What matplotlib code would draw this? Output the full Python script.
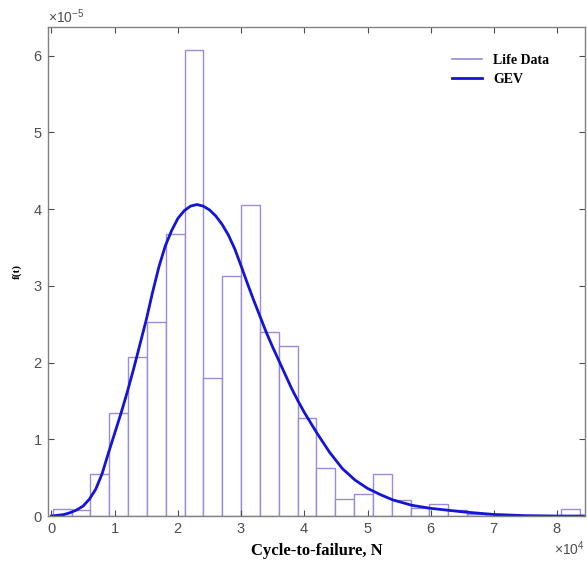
import numpy as np
import matplotlib
matplotlib.use("Agg")
import matplotlib.pyplot as plt
from matplotlib.lines import Line2D
from matplotlib.ticker import ScalarFormatter

plt.rcParams["font.family"] = ["Liberation Sans", "DejaVu Sans"]
plt.rcParams["mathtext.fontset"] = "custom"
plt.rcParams["mathtext.rm"] = "Liberation Sans"

# histogram of life data (cycles, density)
bin_start = 200
bin_width = 2979
life_density = [0.09, 0.08, 0.55, 1.34, 2.07, 2.53, 3.67, 6.07, 1.80, 3.13,
                4.05, 2.40, 2.21, 1.28, 0.62, 0.22, 0.29, 0.55, 0.21, 0.11,
                0.16, 0.08, 0.02, 0.02, 0.0, 0.0, 0.0, 0.09]  # x 1e-5

# fitted GEV pdf
gev_x = [0, 1000, 2000, 3000, 4000, 5000, 6000, 7000, 8000, 9000, 10000,
         11000, 12000, 13000, 14000, 15000, 16000, 17000, 18000, 19000,
         20000, 21000, 22000, 23000, 24000, 25000, 26000, 27000, 28000,
         29000, 30000, 31000, 32000, 33000, 34000, 35000, 36000, 37000,
         38000, 39000, 40000, 42000, 44000, 46000, 48000, 50000, 52000,
         54000, 57000, 60000, 65000, 70000, 75000, 80000, 84400]
gev_y = [0.0, 0.01, 0.02, 0.045, 0.08, 0.13, 0.22, 0.35, 0.55, 0.82, 1.08,
         1.34, 1.62, 1.92, 2.24, 2.56, 2.92, 3.25, 3.52, 3.72, 3.88, 3.98,
         4.04, 4.06, 4.04, 3.99, 3.91, 3.80, 3.66, 3.48, 3.26, 3.03, 2.81,
         2.60, 2.39, 2.20, 2.02, 1.84, 1.66, 1.50, 1.35, 1.08, 0.83, 0.62,
         0.47, 0.36, 0.28, 0.21, 0.14, 0.10, 0.055, 0.02, 0.005, 0.0,
         0.0]  # x 1e-5

purple = "#9a8ad8"
blue = "#1414d8"
grey = "#808080"

lefts = bin_start + bin_width * np.arange(len(life_density))
heights = np.array(life_density) * 1e-5

fig = plt.figure(figsize=(5.87, 5.67), dpi=100)
ax = fig.add_axes([0.0818, 0.0899, 0.9148, 0.8619])

ax.bar(lefts, heights, width=bin_width, align="edge", facecolor="white",
       edgecolor=purple, linewidth=1.0)
ax.plot(gev_x, np.array(gev_y) * 1e-5, color=blue, linewidth=2.0,
        solid_joinstyle="round")

ax.set_xlim(-550, 84400)
ax.set_ylim(0, 6.37e-5)
ax.set_xticks(np.arange(0, 9) * 1e4)
ax.set_yticks(np.arange(0, 7) * 1e-5)

for axis in (ax.xaxis, ax.yaxis):
    fmt = ScalarFormatter(useMathText=True)
    fmt.set_scientific(True)
    fmt.set_powerlimits((0, 0))
    axis.set_major_formatter(fmt)

ax.tick_params(direction="in", top=True, right=True, length=4, width=0.8,
               colors="#4d4d4d", labelsize=10.5, pad=4)
ax.xaxis.get_offset_text().set_color("#4d4d4d")
ax.yaxis.get_offset_text().set_color("#4d4d4d")
ax.xaxis.get_offset_text().set_fontsize(10)
ax.yaxis.get_offset_text().set_fontsize(10)
for s in ax.spines.values():
    s.set_color(grey)
    s.set_linewidth(1.0)

serif = "Liberation Serif"
ax.set_xlabel("Cycle-to-failure, N", fontfamily=serif, fontweight="bold",
              fontsize=12, labelpad=5)
ax.set_ylabel("f(t)", fontfamily=serif, fontweight="bold", fontsize=8,
              labelpad=8)

handles = [Line2D([0], [0], color=purple, linewidth=1.2),
           Line2D([0], [0], color=blue, linewidth=2.0)]
ax.legend(handles, ["Life Data", "GEV"], loc="upper right", frameon=False,
          prop={"family": serif, "weight": "bold", "size": 10},
          handlelength=2.2, labelspacing=0.45, borderaxespad=1.0,
          bbox_to_anchor=(0.97, 0.985))

fig.savefig("out.png", dpi=100)
